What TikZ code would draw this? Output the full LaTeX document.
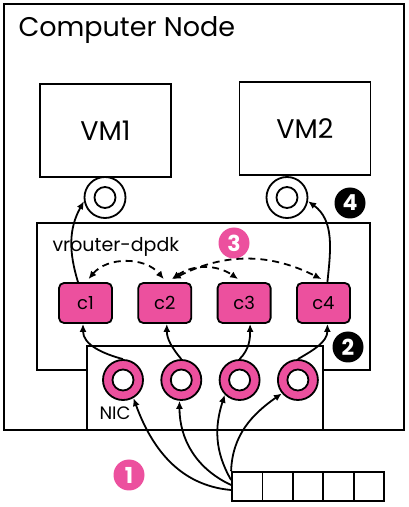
\documentclass[tikz,border=0pt]{standalone}
\usepackage{fontspec}
\setmainfont{Poppins}
\usetikzlibrary{arrows.meta, positioning, calc}
\definecolor{nodepink}{RGB}{236,80,158}
\tikzset{
    container/.style = {rectangle, draw, line width=1.8pt, fill=white, inner sep=0pt},
    vmbox/.style = {rectangle, draw, line width=1.8pt, minimum width=131pt, minimum height=93pt, font=\fontsize{27}{30}\selectfont},
    port/.style = {circle, draw, line width=1.8pt, fill=white, minimum size=41pt, inner sep=0pt, path picture={\draw[line width=1.8pt] (path picture bounding box.center) circle (10.5pt);}},
    nicport/.style = {circle, draw, line width=1.8pt, fill=nodepink, minimum size=40pt, inner sep=0pt, path picture={\draw[line width=1.8pt, fill=white] (path picture bounding box.center) circle (10.5pt);}},
    core/.style = {rectangle, draw, line width=1.8pt, fill=nodepink, rounded corners=5pt, minimum width=53pt, minimum height=40pt, inner sep=0pt, font=\fontsize{18}{20}\selectfont},
    badge/.style = {circle, minimum size=31pt, inner sep=0pt, text=white, font=\fontsize{22}{24}\selectfont\bfseries},
    cell/.style = {rectangle, draw, line width=1.8pt, minimum width=30.4pt, minimum height=29pt, inner sep=0pt},
    line/.style = {draw, -{Latex[length=8pt, width=7pt]}, line width=1.8pt},
    dashedline/.style = {draw, {Latex[length=8pt, width=7pt]}-{Latex[length=8pt, width=7pt]}, line width=1.8pt, dash pattern=on 7pt off 5pt}
}
\begin{document}
\begin{tikzpicture}[x=1pt, y=1pt]
        \useasboundingbox (0,0) rectangle (409,507);

        % Host
        \node [container, minimum width=400pt, minimum height=426pt] (host) at (204,290) {};
        \node [anchor=base west, font=\fontsize{27}{30}\selectfont] (title) at (15,470) {Computer Node};

        % Virtual machines
        \node [vmbox] (vm1) at (105.5,376.5) {VM1};
        \node [vmbox] (vm2) at (305,378.5) {VM2};
        \node [port] (p1) at (105,309.5) {};
        \node [port] (p2) at (287,309.5) {};

        % vRouter
        \node [container, minimum width=333pt, minimum height=147pt] (vrouter) at (203.5,210.5) {};
        \node [anchor=base west, font=\fontsize{19}{21}\selectfont] (vrlabel) at (49,255) {vrouter-dpdk};

        % Cores
        \node [core] (c1) at (85.5,204) {c1};
        \node [core, right=24.5pt of c1] (c2) {c2};
        \node [core, right=24.5pt of c2] (c3) {c3};
        \node [core, right=24.5pt of c3] (c4) {c4};

        % NIC
        \node [container, minimum width=236pt, minimum height=84pt] (nic) at (205,119) {};
        \node [anchor=base west, font=\fontsize{18}{20}\selectfont] (niclabel) at (96,87) {NIC};
        \node [nicport] (d1) at (123,127) {};
        \node [nicport, right=16.5pt of d1] (d2) {};
        \node [nicport, right=16.5pt of d2] (d3) {};
        \node [nicport, right=16.5pt of d3] (d4) {};

        % Queue
        \foreach \i in {1,...,5}
            \node [cell] (q\i) at ({232+30.4*(\i-0.5)},20.5) {};

        % Steps
        \node [badge, fill=nodepink] (s1) at (129,32) {1};
        \node [badge, fill=black] (s2) at (348,160) {2};
        \node [badge, fill=nodepink] (s3) at (234,264) {3};
        \node [badge, fill=black] (s4) at (350,304) {4};

        % Arrows
        \path [line] ([yshift=-3.5pt]q1.west) to[out=175, in=-70] (d1.-60);
        \path [line] ([yshift=1.5pt]q1.west) to[out=155, in=-90] (d2.-95);
        \path [line] ([yshift=6.5pt]q1.west) to[out=120, in=-108] (d3.-135);
        \path [line] (q1.north west) to[out=88, in=-145] (d4.-140);
        \path [line] (d1.north) to[out=165, in=-90] ([xshift=-2.5pt]c1.south);
        \path [line] (d2.north) to[out=130, in=-90] ([xshift=2pt]c2.south);
        \path [line] (d3.north) to[out=45, in=-90] ([xshift=6pt]c3.south);
        \path [line] (d4.north) to[out=30, in=-90] ([xshift=4pt]c4.south);
        \path [dashedline] ([xshift=3pt,yshift=3pt]c1.north) to[bend left=50] ([xshift=-1pt,yshift=3pt]c2.north);
        \path [dashedline] ([xshift=7pt,yshift=3pt]c2.north) to[bend left=35] ([xshift=-6pt,yshift=3pt]c3.north);
        \path [dashedline] ([xshift=8pt,yshift=3pt]c2.north) to[bend left=27] ([xshift=-2pt,yshift=3pt]c4.north);
        \path [line] ([xshift=-7.5pt]c1.north) to[out=107, in=241] (p1.190);
        \path [line] ([xshift=4pt]c4.north) to[out=84, in=-36] (p2.-10);

    \end{tikzpicture}
\end{document}
